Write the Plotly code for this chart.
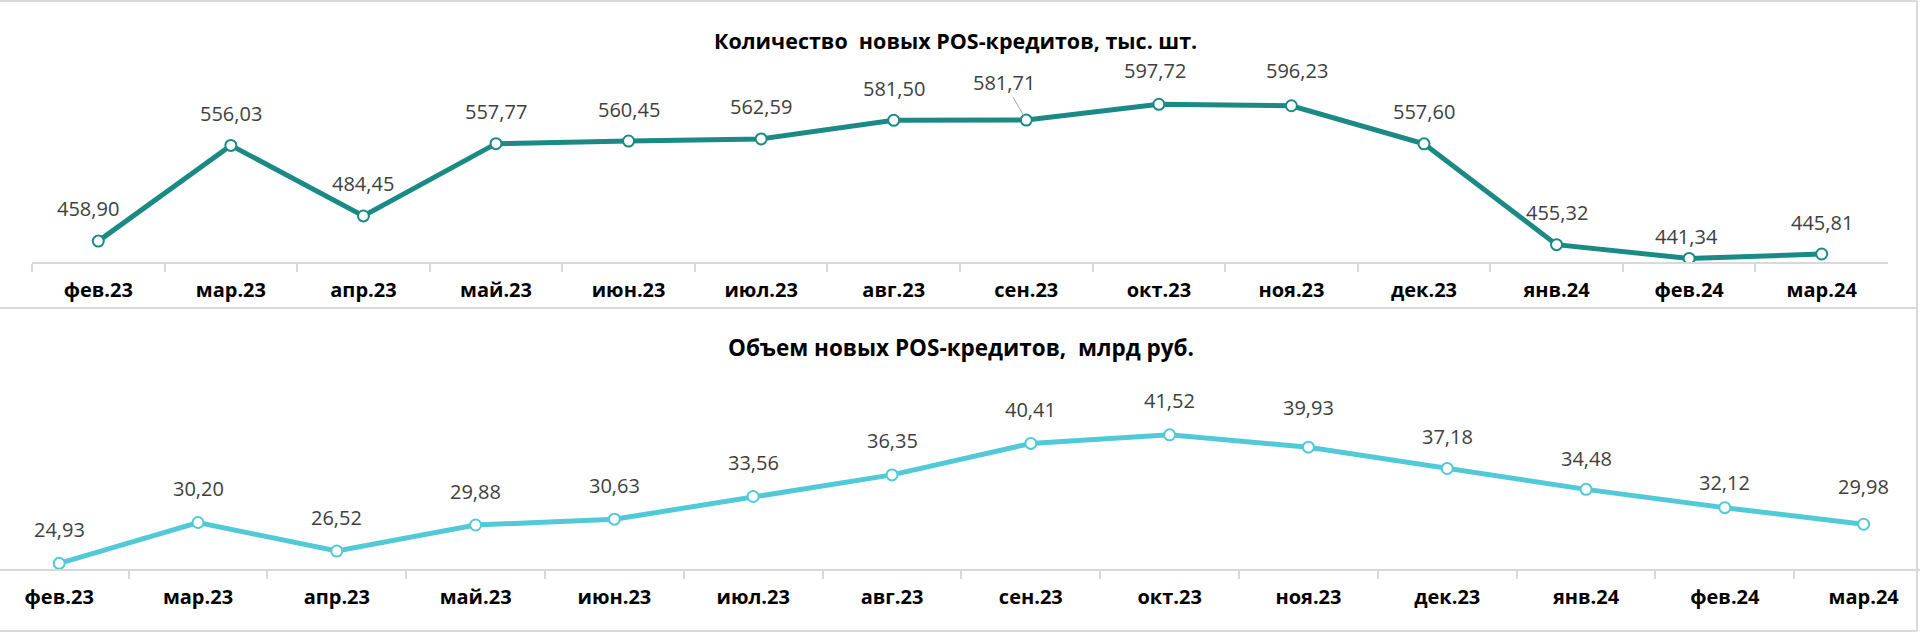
import plotly.graph_objects as go

months = ["фев.23", "мар.23", "апр.23", "май.23", "июн.23", "июл.23", "авг.23",
          "сен.23", "окт.23", "ноя.23", "дек.23", "янв.24", "фев.24", "мар.24"]
count_k = [458.90, 556.03, 484.45, 557.77, 560.45, 562.59, 581.50,
           581.71, 597.72, 596.23, 557.60, 455.32, 441.34, 445.81]
volume_bn = [24.93, 30.20, 26.52, 29.88, 30.63, 33.56, 36.35,
             40.41, 41.52, 39.93, 37.18, 34.48, 32.12, 29.98]

title_top = "Количество  новых POS-кредитов, тыс. шт."
title_bottom = "Объем новых POS-кредитов,  млрд руб."

W, H = 1920, 633
TEAL = "#1B8A85"
CYAN = "#52C9D7"
GRID = "#D9D9D9"
FONT = "Open Sans"


def py(px):
    # pixel row -> paper y
    return 1 - px / H


def fmt(v):
    return f"{v:.2f}".replace(".", ",")


fig = go.Figure()

fig.add_trace(go.Scatter(
    x=months, y=count_k, mode="lines+markers", xaxis="x", yaxis="y",
    line=dict(color=TEAL, width=5),
    marker=dict(size=11, color="white", line=dict(color=TEAL, width=2)),
    hoverinfo="skip", showlegend=False,
))
fig.add_trace(go.Scatter(
    x=months, y=volume_bn, mode="lines+markers", xaxis="x2", yaxis="y2",
    line=dict(color=CYAN, width=5),
    marker=dict(size=11, color="white", line=dict(color=CYAN, width=2)),
    hoverinfo="skip", showlegend=False,
))

# label offsets (xshift, yshift) where Excel labels were nudged
top_nudge = {0: (-10, 33), 12: (-3, 22), 9: (6, 35), 8: (-4, 34)}
bottom_nudge = {9: (0, 40), 12: (0, 25), 11: (0, 31), 10: (0, 32), 13: (0, 38)}

label_font = dict(family=FONT, size=20, color="#404040")
annotations = []
for i, (m, v) in enumerate(zip(months, count_k)):
    if i == 7:
        annotations.append(dict(
            x=m, y=v, xref="x", yref="y", text=fmt(v), showarrow=True,
            ax=-22, ay=-38, arrowhead=0, arrowwidth=1, arrowcolor="#A6A6A6",
            standoff=5, font=label_font))
        continue
    dx, dy = top_nudge.get(i, (0, 32))
    annotations.append(dict(
        x=m, y=v, xref="x", yref="y", text=fmt(v), showarrow=False,
        xshift=dx, yshift=dy, font=label_font))

for i, (m, v) in enumerate(zip(months, volume_bn)):
    dx, dy = bottom_nudge.get(i, (0, 34))
    annotations.append(dict(
        x=m, y=v, xref="x2", yref="y2", text=fmt(v), showarrow=False,
        xshift=dx, yshift=dy, font=label_font))

annotations.append(dict(
    x=955 / W, y=py(40), xref="paper", yref="paper", text=title_top, showarrow=False,
    xanchor="center", yanchor="middle",
    font=dict(family=FONT, size=21.5, color="black", weight="bold")))
annotations.append(dict(
    x=961 / W, y=py(347), xref="paper", yref="paper", text=title_bottom, showarrow=False,
    xanchor="center", yanchor="middle",
    font=dict(family=FONT, size=22.5, color="black", weight="bold")))

axis_common = dict(
    type="category", showline=True, linecolor=GRID, linewidth=2,
    ticks="outside", tickson="boundaries", ticklen=8, tickcolor=GRID, tickwidth=1.5,
    showgrid=False, zeroline=False, fixedrange=True, ticklabelstandoff=9,
    tickfont=dict(family=FONT, size=20, color="black", weight="bold"),
)

# frame lines around both panels
shapes = []
for y in (1, 308, 631):
    shapes.append(dict(type="line", xref="paper", yref="paper", x0=0, x1=1917 / W,
                       y0=py(y), y1=py(y), line=dict(color=GRID, width=2)))
shapes.append(dict(type="line", xref="paper", yref="paper", x0=1917 / W, x1=1917 / W,
                   y0=py(1), y1=py(631), line=dict(color=GRID, width=2)))

fig.update_layout(
    width=W, height=H, autosize=False,
    margin=dict(l=0, r=0, t=0, b=0),
    paper_bgcolor="white", plot_bgcolor="white",
    xaxis=dict(axis_common, domain=[32 / W, 1888 / W], range=[-0.5, 13.5], anchor="y"),
    yaxis=dict(domain=[py(262), py(82)], range=[437.7, 620.35], visible=False,
               fixedrange=True, anchor="x"),
    xaxis2=dict(axis_common, domain=[0, 1], range=[-0.4265, 13.406], anchor="y2"),
    yaxis2=dict(domain=[py(569), py(380)], range=[24.2, 48.6], visible=False,
                fixedrange=True, anchor="x2"),
    annotations=annotations,
    shapes=shapes,
)

fig.write_html(
    "out.html",
    config={"displayModeBar": False},
    post_script="document.body.style.margin='0';document.body.style.overflow='hidden';",
)
